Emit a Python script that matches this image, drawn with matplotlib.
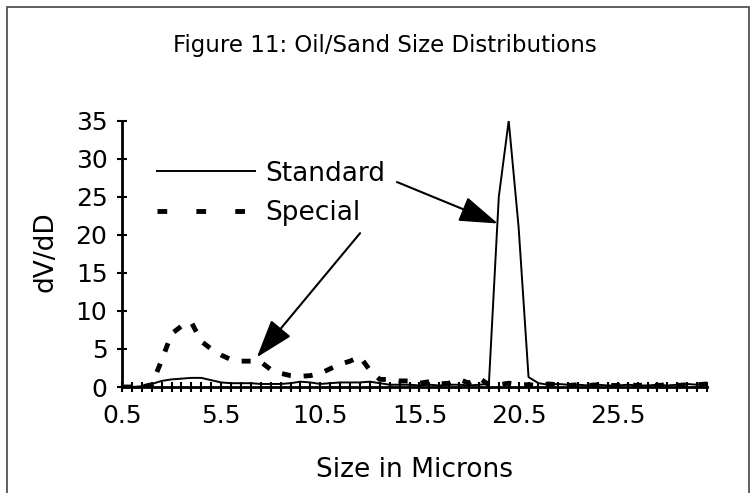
import matplotlib
matplotlib.use('Agg')
import matplotlib.pyplot as plt
from matplotlib.lines import Line2D
from matplotlib.patches import Rectangle

plt.rcParams['font.family'] = ['DejaVu Sans']

# data (size in microns, 0.5 micron bins)
sizes = [0.5, 1.0, 1.5, 2.0, 2.5, 3.0, 3.5, 4.0, 4.5, 5.0,
         5.5, 6.0, 6.5, 7.0, 7.5, 8.0, 8.5, 9.0, 9.5, 10.0,
         10.5, 11.0, 11.5, 12.0, 12.5, 13.0, 13.5, 14.0, 14.5, 15.0,
         15.5, 16.0, 16.5, 17.0, 17.5, 18.0, 18.5, 19.0, 19.5, 20.0,
         20.5, 21.0, 21.5, 22.0, 22.5, 23.0, 23.5, 24.0, 24.5, 25.0,
         25.5, 26.0, 26.5, 27.0, 27.5, 28.0, 28.5, 29.0, 29.5, 30.0]

standard = [0.0, 0.0, 0.1, 0.4, 0.8, 1.0, 1.1, 1.2, 1.2, 0.9,
            0.6, 0.5, 0.5, 0.5, 0.4, 0.4, 0.4, 0.5, 0.7, 0.6,
            0.4, 0.5, 0.6, 0.6, 0.6, 0.7, 0.5, 0.3, 0.3, 0.3,
            0.2, 0.3, 0.2, 0.3, 0.3, 0.2, 0.3, 0.4, 25.0, 35.0,
            21.0, 1.3, 0.5, 0.3, 0.4, 0.3, 0.3, 0.2, 0.3, 0.2,
            0.2, 0.3, 0.2, 0.2, 0.3, 0.2, 0.3, 0.4, 0.3, 0.5]

special = [0.0, 0.0, 0.0, 0.3, 3.5, 7.0, 8.0, 8.5, 6.0, 5.0,
           4.2, 3.6, 3.4, 3.4, 3.3, 2.3, 1.8, 1.5, 1.4, 1.5,
           1.8, 2.4, 3.0, 3.4, 4.0, 2.2, 1.0, 1.0, 0.8, 0.8,
           0.5, 0.7, 0.4, 0.5, 1.0, 0.5, 1.2, 0.3, 0.3, 0.5,
           0.3, 0.3, 0.2, 0.4, 0.3, 0.2, 0.3, 0.2, 0.3, 0.2,
           0.2, 0.3, 0.2, 0.3, 0.2, 0.3, 0.2, 0.3, 0.3, 0.4]

xtick_labels = ['0.5', '5.5', '10.5', '15.5', '20.5', '25.5']
yticks = [0, 5, 10, 15, 20, 25, 30, 35]

fig = plt.figure(figsize=(7.52, 4.93), dpi=100)
ax = fig.add_axes([0.1622, 0.215, 0.778, 0.540])

ax.plot(sizes, standard, color='black', lw=1.4)
ax.plot(sizes, special, color='black', lw=3.5, dashes=(1.85, 2.65))

ax.set_xlim(0.5, 30.0)
ax.set_ylim(0, 35)
ax.set_xticks([float(t) for t in xtick_labels])
ax.set_xticklabels(xtick_labels)
ax.set_xticks(sizes, minor=True)
ax.set_yticks(yticks)

for s in ['top', 'right']:
    ax.spines[s].set_visible(False)
for s in ['left', 'bottom']:
    ax.spines[s].set_linewidth(2)
ax.tick_params(axis='both', which='both', direction='inout', width=1.5,
               labelsize=18)
ax.tick_params(axis='x', which='both', length=7, pad=9)
ax.tick_params(axis='y', which='major', length=7, pad=7)
ax.set_xlabel('Size in Microns', fontsize=19, va='center')
ax.set_ylabel('dV/dD', fontsize=19)
ax.xaxis.set_label_coords(0.5, -0.31)
ax.yaxis.set_label_coords(-0.109, 0.51)

fig.text(0.512, 0.908, 'Figure 11: Oil/Sand Size Distributions',
         fontsize=16.5, ha='center', va='center')

# legend
h_std = Line2D([], [], color='black', lw=1.4)
h_spc = Line2D([], [], color='black', lw=3.5, dashes=(2.0, 6.0))
ax.legend([h_std, h_spc], ['Standard', 'Special'], frameon=False,
          fontsize=19, handlelength=3.7, handletextpad=0.38, labelspacing=0.5,
          loc='upper left', bbox_to_anchor=(0.042, 0.89), borderaxespad=0)

# arrows
arrow = dict(arrowstyle='-|>,head_length=1.2,head_width=0.4',
             mutation_scale=20, color='black', lw=1.5, shrinkA=0, shrinkB=0)
ax.annotate('', xy=(19.45, 21.5), xycoords='data',
            xytext=(0.470, 0.770), textcoords='axes fraction', arrowprops=arrow)
ax.annotate('', xy=(7.3, 3.9), xycoords='data',
            xytext=(0.407, 0.578), textcoords='axes fraction', arrowprops=arrow)

fig.add_artist(Rectangle((0.009, -0.05), 0.987, 1.036, transform=fig.transFigure,
                         fill=False, lw=1.2, ec='#444444'))

fig.savefig('out.png', dpi=100)
